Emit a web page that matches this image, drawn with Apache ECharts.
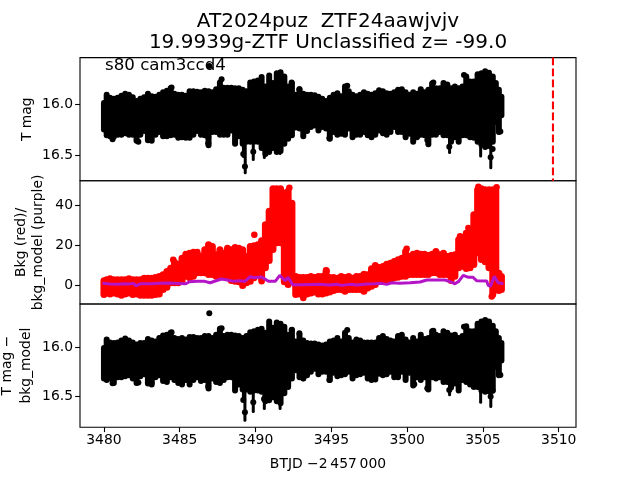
<!DOCTYPE html>
<html><head><meta charset="utf-8">
<style>html,body{margin:0;padding:0;background:#fff}#c{width:640px;height:480px}</style>
<script src="https://cdn.jsdelivr.net/npm/echarts@6/dist/echarts.min.js"></script>
</head><body><div id="c"></div>
<script>
const times=[3480.0,3480.18,3480.4,3480.65,3480.9,3481.15,3481.4,3481.65,3481.9,3482.15,3482.4,3482.65,3482.9,3483.15,3483.4,3483.65,3483.9,3484.15,3484.4,3484.65,3484.9,3485.15,3485.4,3485.65,3485.9,3486.15,3486.4,3486.65,3486.9,3487.15,3487.4,3487.65,3487.9,3488.15,3488.4,3488.65,3488.9,3489.15,3489.4,3489.65,3489.9,3490.15,3490.4,3490.65,3490.9,3491.15,3491.4,3491.65,3491.9,3492.15,3492.4,3492.65,3492.9,3493.15,3493.4,3493.65,3493.9,3494.15,3494.4,3494.65,
3494.9,3495.15,3495.4,3495.65,3495.9,3496.15,3496.4,3496.65,3496.9,3497.15,3497.4,3497.65,3497.9,3498.15,3498.4,3498.65,3498.9,3499.15,3499.4,3499.65,3499.9,3500.15,3500.4,3500.65,3500.9,3501.15,3501.4,3501.65,3501.9,3502.15,3502.4,3502.65,3502.9,3503.15,3503.4,3503.65,3503.9,3504.15,3504.4,3504.65,3504.9,3505.15,3505.4,3505.65,3505.85,3506.05,3506.22];
const magTop1=[15.96,15.88,15.91,15.92,15.91,15.89,15.87,15.88,15.905,15.94,15.92,15.905,15.87,15.895,15.90,15.88,15.855,15.84,15.815,15.87,15.88,15.88,15.89,15.845,15.845,15.85,15.855,15.84,15.845,15.855,15.825,15.76,15.81,15.81,15.81,15.815,15.815,15.83,15.845,15.76,15.75,15.74,15.705,15.80,15.69,15.765,15.67,15.66,15.70,15.80,15.77,15.88,15.825,15.87,15.88,15.88,15.885,15.90,15.92,15.94,
15.91,15.88,15.865,15.895,15.80,15.845,15.88,15.895,15.88,15.855,15.87,15.88,15.865,15.835,15.845,15.865,15.87,15.855,15.83,15.825,15.855,15.88,15.855,15.87,15.825,15.855,15.83,15.77,15.815,15.815,15.765,15.78,15.815,15.80,15.815,15.80,15.70,15.75,15.75,15.68,15.67,15.65,15.665,15.70,15.765,15.83,15.90];
const magBot1=[16.28,16.335,16.345,16.35,16.33,16.33,16.315,16.33,16.33,16.39,16.33,16.295,16.385,16.39,16.33,16.305,16.345,16.345,16.335,16.33,16.36,16.355,16.36,16.36,16.33,16.295,16.33,16.335,16.435,16.305,16.305,16.33,16.33,16.33,16.29,16.42,16.345,16.42,16.40,16.40,16.40,16.40,16.46,16.52,16.50,16.46,16.50,16.49,16.42,16.37,16.335,16.26,16.27,16.345,16.295,16.255,16.24,16.29,16.255,16.27,
16.37,16.305,16.33,16.32,16.33,16.27,16.355,16.33,16.33,16.305,16.335,16.355,16.33,16.29,16.315,16.33,16.305,16.255,16.305,16.305,16.355,16.32,16.40,16.355,16.33,16.335,16.425,16.33,16.33,16.305,16.335,16.335,16.40,16.355,16.40,16.335,16.335,16.355,16.36,16.40,16.43,16.45,16.44,16.40,16.205,16.305,16.14];
const magTop3=[15.976,15.89,15.92,15.925,15.92,15.90,15.88,15.90,15.92,15.94,15.925,15.925,15.885,15.90,15.91,15.875,15.85,15.84,15.82,15.875,15.885,15.875,15.89,15.865,15.865,15.875,15.875,15.855,15.855,15.875,15.84,15.78,15.855,15.84,15.84,15.85,15.855,15.875,15.855,15.815,15.805,15.79,15.78,15.82,15.705,15.77,15.715,15.73,15.76,15.84,15.79,15.91,15.84,15.90,15.925,15.93,15.93,15.94,15.95,15.94,
15.91,15.90,15.875,15.91,15.82,15.875,15.92,15.89,15.90,15.92,15.92,15.92,15.92,15.875,15.855,15.885,15.90,15.91,15.855,15.84,15.89,15.92,15.875,15.91,15.84,15.885,15.875,15.805,15.84,15.855,15.805,15.82,15.85,15.84,15.875,15.855,15.755,15.805,15.805,15.73,15.705,15.69,15.705,15.75,15.805,15.875,15.925];
const magBot3=[16.35,16.365,16.35,16.395,16.335,16.335,16.325,16.315,16.35,16.395,16.325,16.305,16.40,16.41,16.335,16.315,16.375,16.385,16.335,16.365,16.395,16.41,16.365,16.41,16.365,16.335,16.375,16.365,16.45,16.35,16.385,16.395,16.365,16.335,16.335,16.47,16.41,16.46,16.46,16.485,16.47,16.47,16.485,16.58,16.57,16.54,16.58,16.60,16.50,16.435,16.35,16.265,16.335,16.35,16.315,16.28,16.25,16.305,16.28,16.28,
16.365,16.29,16.325,16.315,16.305,16.28,16.35,16.315,16.305,16.29,16.35,16.365,16.36,16.30,16.315,16.305,16.28,16.335,16.335,16.28,16.365,16.29,16.42,16.335,16.365,16.335,16.46,16.335,16.35,16.335,16.385,16.385,16.44,16.40,16.47,16.365,16.385,16.41,16.435,16.435,16.47,16.485,16.48,16.47,16.23,16.315,16.165];
const spikes1=[[3489.2,16.3,16.53],[3489.32,16.3,16.69],[3489.85,16.3,16.56],[3490.58,16.3,16.54],[3491.02,16.3,16.46],[3491.62,16.3,16.5],[3502.8,16.3,16.49],[3504.85,16.3,16.525],[3505.52,16.3,16.64]];
const spikes3=[[3489.2,16.3,16.56],[3489.3,16.3,16.76],[3489.85,16.3,16.67],[3490.58,16.3,16.64],[3491.62,16.3,16.64],[3502.8,16.3,16.5],[3504.85,16.3,16.575],[3505.52,16.3,16.62]];
const bkgTop=[4.0,4.5,5,4.5,4.5,4.5,4.5,5,4.5,4.5,4.5,5.3,5.3,5.3,5.7,6.2,7,8.7,10.3,13.3,12.3,15.3,17.3,17.8,18.3,18.3,16.2,19.5,22,21.2,17,19.5,17.8,20.3,19.5,20.7,20.3,19.5,16.2,21.2,21.5,22,24,32,38.7,50,50,50,47.8,48.7,42.8,6.2,5.7,5.7,5.7,6.2,5.7,6.2,6.2,8.3,
5.7,5.7,5.3,6.2,5.7,6.2,5.3,6.2,6.2,7.3,7,10,11.7,10.7,11.2,12.3,12.8,13.7,14.5,15.3,18.7,16.2,17.3,17.8,17.3,17.3,16.7,17.3,18.7,17,17.8,16.2,16.7,17,24.5,24.5,27.8,28.7,37,49.5,50,49.5,49.5,49.5,49,7.8,6.2];
const bkgBot=[-6.3,-5,-6,-5.5,-6,-6.7,-6,-5.5,-6.3,-6,-6.7,-6.7,-6.7,-6.7,-6.3,-6,-3.8,-2.7,-0.5,-0.5,-0.5,0.3,2.8,2,2.8,4.5,4.5,4.5,3.7,3.7,2.8,3.7,2.8,2,0.7,0.3,0,-1.8,-0.5,0.3,2,3.7,1.5,7,10.7,16.2,19.5,19.5,0,-1.3,0.7,-6.3,-6,-7,-6,-5.5,-5,-6,-6,-5.5,
-5,-4.3,-3.8,-3.8,-4.7,-3.8,-3.8,-3.8,-3.8,-4.7,-3,-2.2,-1.3,0.3,0.7,0.7,0.7,2,2.3,2.8,2.8,3.7,3.7,3.7,3.7,3.7,3.7,4.5,4.5,3.7,3.7,3.7,0.7,2.8,7,7.8,6.7,7,8.7,14.5,11.2,10,7,-6.3,-2.2,-4.3,-3.8];
const modelTimes=[3479.9,3480.4,3480.9,3481.4,3481.65,3481.95,3482.1,3482.4,3483.15,3483.65,3484.15,3484.65,3485.4,3485.65,3486.15,3486.65,3487,3487.4,3487.75,3488.15,3488.55,3488.9,3489.3,3489.65,3489.9,3490.4,3490.85,3491.3,3491.6,3491.95,3492.15,3492.45,3493.15,3494.15,3494.9,3495.4,3495.65,3496.25,3496.7,3497.35,3497.9,3498.3,3498.65,3499,3499.5,3500.2,3500.85,3501.3,3501.95,3502.5,3502.95,3503.15,3503.4,3503.7,3504.05,3504.35,3504.6,3505.25,3505.35,3505.5,3505.75,3506,3506.35];
const modelVals=[1,0.7,0.5,0.8,0.7,1,-0.2,0.8,0.8,1,1.2,1,0.8,1.8,2,2,1.3,2.3,3.2,2.7,2,2.3,2,4.3,3.8,4.2,2,2,5,2.3,4,0.3,0.3,0.5,0.2,0.5,0,0.5,0.2,0.7,0.8,1,0.5,1.3,1,1.3,1.7,2.7,2.7,2.7,1.5,0.8,2,5,4,4,2.3,2.2,0,-0.5,4.5,1.3,0.8];
const outliers1=[[3486.95,15.627],[3484.46,15.837],[3487.76,15.758],[3482.27,16.37],[3480.57,16.346],[3483.03,16.353],[3486.88,16.327],[3486.88,16.386],[3489.3,16.614],[3489.19,16.49],[3489.85,16.467],[3490.56,16.435],[3492.38,15.79],[3492.89,15.856],[3496.05,15.82],[3494.87,16.337],[3501.73,15.79],[3502.78,16.418],[3503.75,15.716],[3505.51,16.523],[3505.64,16.44],[3506.15,16.27],[3501.33,16.353]];
const outliers3=[[3486.95,15.653],[3484.46,15.847],[3487.76,15.806],[3482.27,16.36],[3480.57,16.367],[3483.14,16.36],[3486.88,16.40],[3489.3,16.663],[3489.19,16.537],[3489.85,16.561],[3490.56,16.527],[3492.38,15.823],[3492.89,15.857],[3493.15,16.316],[3496.05,15.823],[3494.87,16.333],[3501.73,15.83],[3502.78,16.435],[3501.33,16.418],[3500.47,16.378],[3505.51,16.503],[3505.64,16.442],[3506.15,16.282],[3503.75,15.789]];
const bkgExtras=[[3489.92,25.3],[3493.15,-6.3],[3490.4,2],[3494.69,7.3],[3492.23,48.7],[3484.57,12.8],[3494.65,7.5],[3504.04,28.7],[3503.49,24.5],[3499.97,18.3],[3505.9,49],[3505.58,-5.5],[3504.7,49.2]];
const markerTime=3509.62;
const xTicks=[3480,3485,3490,3495,3500,3505,3510];
const magTicks=[16.0,16.5];
const bkgTicks=[0,20,40];

const FONT='"DejaVu Sans"';
const xMin=3478.42,xMax=3511.14;
const ranges=[[15.545,16.753],[-9.3,52.2],[15.558,16.815]];
const tops=[57.6,180.8,304];
const H=123.2;

function capsule(color,w){
  return function(params,api){
    const a=api.coord([api.value(0),api.value(1)]);
    const b=api.coord([api.value(0),api.value(2)]);
    const r=w/2;
    return {type:'line',shape:{x1:a[0],y1:Math.min(a[1],b[1])+r,x2:a[0],y2:Math.max(a[1],b[1])-r},
      style:{stroke:color,lineWidth:w,lineCap:'round',fill:null}};
  };
}
function zip3(a,b,c){return a.map((v,i)=>[v,b[i],c[i]]);}
function xAxis(i){
  const last=i===2;
  return {type:'value',gridIndex:i,min:xMin,max:xMax,splitLine:{show:false},
    axisLine:{show:false},
    axisTick:{show:last,customValues:xTicks,length:4.9,lineStyle:{color:'#000',width:1.1}},
    axisLabel:{show:last,customValues:xTicks,color:'#000',fontFamily:FONT,fontSize:13.9,margin:6,formatter:v=>String(v)},
    name:last?'BTJD \u22122\u2009457\u2009000':'',nameLocation:'middle',nameGap:30,nameMoveOverlap:false,
    nameTextStyle:{color:'#000',fontFamily:FONT,fontSize:13.9}};
}
function yAxis(i,ticks,name,gap,inv,fmt,lh){
  return {type:'value',gridIndex:i,min:ranges[i][0],max:ranges[i][1],inverse:inv,splitLine:{show:false},
    axisLine:{show:false},
    axisTick:{show:true,customValues:ticks,length:4.9,lineStyle:{color:'#000',width:1.1}},
    axisLabel:{show:true,customValues:ticks,color:'#000',fontFamily:FONT,fontSize:13.9,margin:7,formatter:fmt},
    name:name,nameLocation:'middle',nameRotate:90,nameGap:gap,nameMoveOverlap:false,
    nameTextStyle:{color:'#000',fontFamily:FONT,fontSize:13.9,lineHeight:lh}};
}
const common={animation:false,silent:true};
const chart=echarts.init(document.getElementById('c'),null,{renderer:'canvas'});
chart.setOption({
  animation:false,backgroundColor:'#fff',
  title:[
    {text:'AT2024puz  ZTF24aawjvjv',left:323,top:7,textAlign:'center',textStyle:{fontFamily:FONT,fontSize:20,fontWeight:'normal',color:'#000'}},
    {text:'19.9939g-ZTF Unclassified z= -99.0',left:323,top:28,textAlign:'center',textStyle:{fontFamily:FONT,fontSize:20,fontWeight:'normal',color:'#000'}},
    {text:'s80 cam3ccd4',left:100,top:52,textStyle:{fontFamily:FONT,fontSize:16.67,fontWeight:'normal',color:'#000'}}
  ],
  grid:tops.map(t=>({left:80,width:496,top:t,height:H,show:true,borderColor:'#000',borderWidth:1.1,backgroundColor:'transparent',containLabel:false,outerBoundsMode:'none'})),
  xAxis:[xAxis(0),xAxis(1),xAxis(2)],
  yAxis:[
    yAxis(0,magTicks,'T mag',45,true,v=>v.toFixed(1),16),
    yAxis(1,bkgTicks,'Bkg (red)/\nbkg_model (purple)',33,false,v=>String(v),17),
    yAxis(2,magTicks,'T mag \u2212\nbkg_model',44,true,v=>v.toFixed(1),19)
  ],
  series:[
    {...common,type:'custom',xAxisIndex:0,yAxisIndex:0,clip:true,renderItem:capsule('#000',6),encode:{x:0,y:[1,2]},data:zip3(times,magTop1,magBot1)},
    {...common,type:'custom',xAxisIndex:0,yAxisIndex:0,clip:true,renderItem:capsule('#000',3),encode:{x:0,y:[1,2]},data:spikes1},
    {...common,type:'scatter',xAxisIndex:0,yAxisIndex:0,symbolSize:6,itemStyle:{color:'#000',opacity:1},data:outliers1},
    {...common,type:'line',xAxisIndex:0,yAxisIndex:0,showSymbol:false,lineStyle:{color:'#ff0000',width:2.1,type:[7.7,3.3]},data:[[markerTime,ranges[0][0]],[markerTime,ranges[0][1]]]},
    {...common,type:'custom',xAxisIndex:1,yAxisIndex:1,clip:true,renderItem:capsule('#ff0000',7),encode:{x:0,y:[1,2]},data:zip3(times,bkgTop,bkgBot)},
    {...common,type:'scatter',xAxisIndex:1,yAxisIndex:1,symbolSize:6.5,itemStyle:{color:'#ff0000',opacity:1},data:bkgExtras},
    {...common,type:'line',xAxisIndex:1,yAxisIndex:1,showSymbol:false,lineStyle:{color:'#b414c8',width:3},z:5,data:modelTimes.map((t,i)=>[t,modelVals[i]])},
    {...common,type:'custom',xAxisIndex:2,yAxisIndex:2,clip:true,renderItem:capsule('#000',6),encode:{x:0,y:[1,2]},data:zip3(times,magTop3,magBot3)},
    {...common,type:'custom',xAxisIndex:2,yAxisIndex:2,clip:true,renderItem:capsule('#000',3),encode:{x:0,y:[1,2]},data:spikes3},
    {...common,type:'scatter',xAxisIndex:2,yAxisIndex:2,symbolSize:6,itemStyle:{color:'#000',opacity:1},data:outliers3}
  ]
});
</script></body></html>
